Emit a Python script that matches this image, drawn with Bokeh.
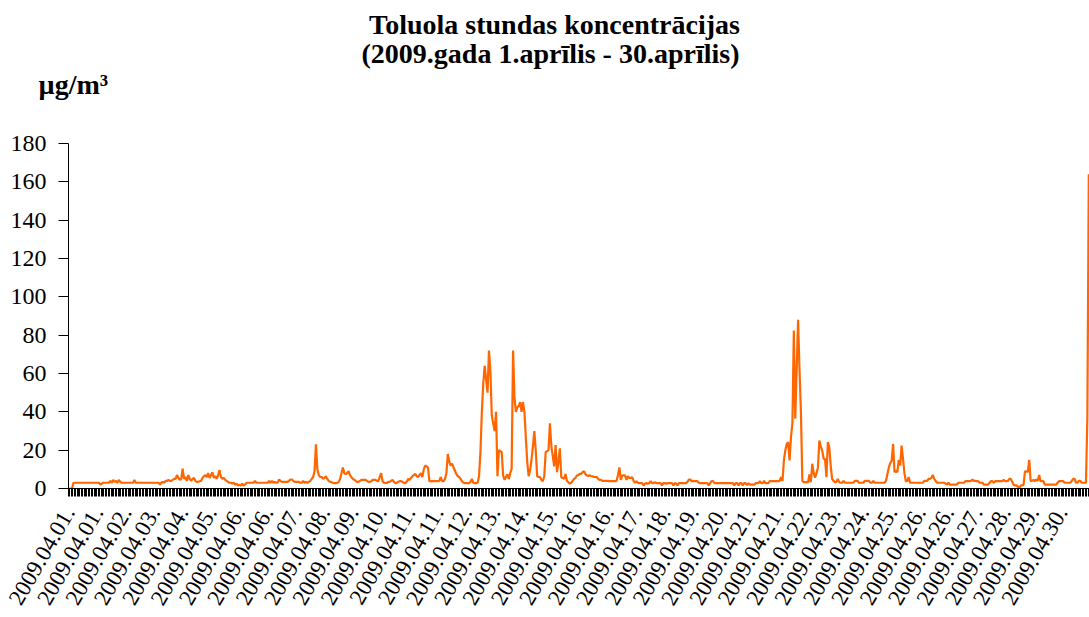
from bokeh.plotting import figure
from bokeh.models import Range1d, FixedTicker
from bokeh.layouts import column
from bokeh.core.properties import value
from bokeh.embed import file_html
from bokeh.resources import INLINE
import math

# hourly toluene concentrations, µg/m3, one list per day (April 2009)
d01 = [0,0,0,3,3,3,3,3,3,3,3,3,3,3,3,3,3,3,3,3,3,3,2,2.5]
d02 = [3,3,3,3,3,4,3,4.5,3.5,4,3,4.5,3.5,3,3,3,3,3,3,3,3,3,4.5,3]
d03 = [3,3,3,3,3,3,3,3,3,3,3,3,3,3,3,3,2,3,3.5,3,4,4,4.5,4]
d04 = [4,4.5,5,5,7,5.5,4.5,5,10.3,5,6,4,7,5,4,5,5.5,4,3.5,3.5,3.8,4,5.5,6.5]
d05 = [7,6,8,5.5,7,8.5,5.5,6.5,5,7,9.6,6,5,5.5,4.5,4,3.5,3,3,2.5,3,2,2.5,1.5]
d06 = [2,1.5,2.5,1.5,2,3,3,3,3,3,3,4,3,3,3,3,3,3,3,3,3,4,3,4]
d07 = [3,3.5,3,3,4.7,4,3.5,3.5,3.5,3.5,3.5,4,4.7,4.7,4,3.5,3.5,3.5,3.5,3,3,4,3,3.5]
d08 = [3,3.5,4,5,6,9,23,10,7,6,6,5,5.5,6.4,5,4,3.5,3.3,3,2.8,2.8,3,3.3,5]
d09 = [8,11,8,7.6,8,9,7,5.9,5,4.6,4,3.5,3.5,4,4.5,4.5,4.5,4.5,4,3.5,3.5,3.8,4.5,4.5]
d10 = [4.5,4,3.8,6,8,3.8,3,2.8,3,3.5,3.5,4,4.5,3.5,2.8,3,3.5,3.8,3.8,3.5,3,2.8,3.5,5]
d11 = [4.5,5.5,6.4,7,7.6,6.5,5.9,7,8,6,9.8,12,11.5,11,3.8,3.8,3.8,3.8,3.8,3.8,3.8,4,6,3.8]
d12 = [3.8,5,8,18,14,12,13,11,9.4,7.5,6.4,6,5,3.8,3,2.8,2.8,2.8,2.8,3.5,5,3,2.8,2.8]
d13 = [3,6.4,19,40,55,64,57,50,72,61.5,38,34,30,40,6.4,20,19.5,19,6.8,4.5,6,7.4,5,8]
d14 = [10.2,72,47.6,40,42.4,43,45,40,45,40,27,13.7,6.4,9.4,15,22,30,20,6.4,6,5.9,4.5,3.8,6.4]
d15 = [19,19.5,20,34,22,17,11.5,22.7,8.5,14,21,5.9,5.5,5,7.6,4,3.3,2.5,3,4,5,5.5,6.8,7]
d16 = [7.6,7.6,8.5,9,7.5,6.8,6.5,7,6.4,6.4,6,6,6,5,4.5,4.5,4,4,4,4,4,3.8,3.8,3.8]
d17 = [3.8,3.8,4,7,11,4.5,6.8,6.8,6.8,4.5,6.4,5.5,5.5,5.9,4,3,3.8,3,2.8,2.8,2.8,1.6,2.5,2.8]
d18 = [2.5,2.8,3.8,2.8,2.8,3.3,2.8,2.8,2.8,2.8,1.6,2.8,2.8,2.5,2.8,2.8,2.8,2.8,1.6,2.8,2.5,1.6,2.8,2.8]
d19 = [2.8,2.8,2.8,2.8,3.5,4.6,4.7,3.8,4,3.8,3.8,3.8,3,2.8,2.8,2.8,2.8,2.8,2.8,1.6,2.8,3.8,3.8,2.8]
d20 = [2.8,2.8,2.8,2.8,2.8,2.8,2.8,2.8,2.8,2.8,2.8,2.8,2.8,1.6,2.8,2.8,1.6,2.8,2.8,1.6,2.8,2.8,1.8,2.8]
d21 = [2,2,2,2,2.8,2.8,2.8,3.8,2.8,2.8,4,2.8,2.8,2.8,3.8,3.8,3.8,3.8,3.8,3.8,3.8,4,5.9,4]
d22 = [14.6,20,23.3,24.2,14.6,27,34,82.4,36.4,62,88,62,40,4,3.3,3.3,3.3,3.3,7.3,3.3,12.9,8,5.6,8]
d23 = [11,25,22,19.8,15.5,15.5,5.9,24.3,21.5,12,5,4,3.3,3.3,5,3.3,3,3,4,3,3,3,3,3]
d24 = [3,3,4,4,4,3,3,3,3,4,4,4,4,3,3,4,3,3,3,3,3,3,3,3]
d25 = [4,7.6,11,13.2,14.6,23.3,8.5,9.4,8.5,15,12,22.4,15.5,8,3.8,3.8,6,3,3,3,3,3,3,3]
d26 = [3,3,3,4,4,4,5,5,5.5,7.1,5,4,3,3,3,3,3,3,2.5,2,3,2,2,2]
d27 = [2,2,2,3,3,3,3,3,3.8,3.8,3.8,3.8,4,4.7,4,4,3.8,3.8,3,3,3,2,2,2]
d28 = [2,3,3.8,3.8,3,3.8,3.8,3.8,3.8,3.8,3.8,4.5,3.8,3.8,4,5,5,3.5,2,1.6,1.6,1,0.3,1.6]
d29 = [1.6,2,9,9,8.5,15,4,4,4.5,3.8,4.7,4,7,3.8,3.8,3.8,2,2,2,2,2,2,2,2]
d30 = [2,3,3.8,3.8,3.8,3.8,3,3,3,3,3,4,5,5,3,3,4,4,3,3,3,3,37,164]

days = [d01, d02, d03, d04, d05, d06, d07, d08, d09, d10, d11, d12, d13, d14, d15,
        d16, d17, d18, d19, d20, d21, d22, d23, d24, d25, d26, d27, d28, d29, d30]
toluene = [v for d in days for v in d]
hours = list(range(len(toluene)))

# category labels shown every 20th hour
date_labels = ["2009.04.01.", "2009.04.01.", "2009.04.02.", "2009.04.03.", "2009.04.04.",
               "2009.04.05.", "2009.04.06.", "2009.04.06.", "2009.04.07.", "2009.04.08.",
               "2009.04.09.", "2009.04.10.", "2009.04.11.", "2009.04.11.", "2009.04.12.",
               "2009.04.13.", "2009.04.14.", "2009.04.15.", "2009.04.16.", "2009.04.16.",
               "2009.04.17.", "2009.04.18.", "2009.04.19.", "2009.04.20.", "2009.04.21.",
               "2009.04.21.", "2009.04.22.", "2009.04.23.", "2009.04.24.", "2009.04.25.",
               "2009.04.26.", "2009.04.26.", "2009.04.27.", "2009.04.28.", "2009.04.29.",
               "2009.04.30."]
label_step = 20
y_ticks = [0, 20, 40, 60, 80, 100, 120, 140, 160, 180]

title1 = "Toluola stundas koncentrācijas"
title2 = "(2009.gada 1.aprīlis - 30.aprīlis)"
unit = "µg/m³"

FONT = "Liberation Serif"
W = 1089
LEFT = 68
TOP_H = 125
n = len(toluene)

# ---- header strip (titles + unit); x in page pixels, y measured downward
head = figure(width=W, height=TOP_H, output_backend="svg", toolbar_location=None,
              x_range=Range1d(0, W), y_range=Range1d(TOP_H, 0),
              x_axis_type=None, y_axis_type=None,
              min_border_left=0, min_border_right=0,
              min_border_top=0, min_border_bottom=0)
head.frame_align = False
head.outline_line_color = None
head.grid.visible = False
head.text(x=[554, 550], y=[24, 53], text=[title1, title2],
          text_align="center", text_baseline="alphabetic",
          text_font=value(FONT), text_font_size=value("28px"),
          text_font_style="bold", text_color="black")
head.text(x=[38], y=[84], text=[unit], text_align="left", text_baseline="alphabetic",
          text_font=value(FONT), text_font_size=value("28px"),
          text_font_style="bold", text_color="black")

# ---- main chart
p = figure(width=W, height=617 - TOP_H, output_backend="svg", toolbar_location=None,
           x_range=Range1d(-0.5, n - 0.5), y_range=Range1d(0, 180),
           min_border_left=LEFT, min_border_right=0, min_border_top=143 - TOP_H,
           min_border_bottom=129)
p.frame_align = False
p.outline_line_color = None
p.xgrid.visible = False
p.ygrid.visible = False

p.line(hours, toluene, line_color="#FF6600", line_width=2.2)

# y axis
p.yaxis.ticker = FixedTicker(ticks=y_ticks)
p.yaxis.major_tick_out = 10
p.yaxis.major_tick_in = 0
p.yaxis.minor_tick_line_color = None
p.yaxis.axis_line_color = "black"
p.yaxis.major_tick_line_color = "black"
p.yaxis.major_label_text_font = FONT
p.yaxis.major_label_text_font_size = "24px"
p.yaxis.major_label_text_color = "black"
p.yaxis.major_label_standoff = 12

# x axis: a tick between every hour, a date label every 20th hour
label_pos = [i * label_step for i in range(len(date_labels))]
p.xaxis.ticker = FixedTicker(ticks=label_pos,
                             minor_ticks=[i - 0.5 for i in range(n + 1)])
p.xaxis.major_label_overrides = {pos: lab for pos, lab in zip(label_pos, date_labels)}
p.xaxis.major_label_orientation = math.pi / 3
p.xaxis.major_tick_out = 8
p.xaxis.major_tick_in = 0
p.xaxis.major_tick_line_color = None
p.xaxis.minor_tick_out = 8
p.xaxis.minor_tick_in = 0
p.xaxis.minor_tick_line_color = "black"
p.xaxis.axis_line_color = "black"
p.xaxis.major_label_text_font = FONT
p.xaxis.major_label_text_font_size = "23px"
p.xaxis.major_label_text_color = "black"
p.xaxis.major_label_standoff = 12

layout = column(head, p, spacing=0)
open("out.html", "w").write(file_html(layout, INLINE))
